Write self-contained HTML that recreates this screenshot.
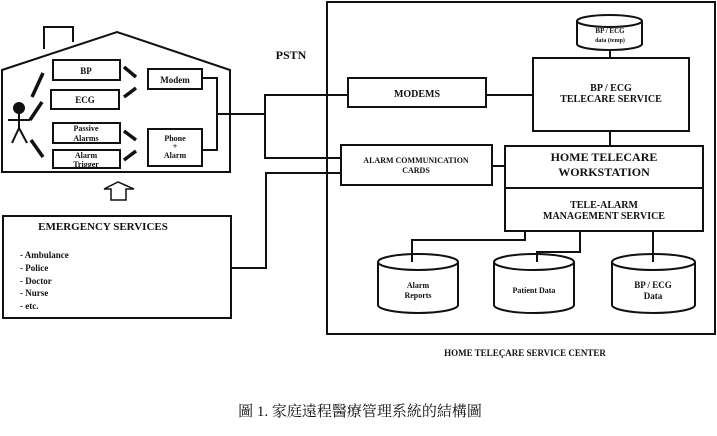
<!DOCTYPE html>
<html><head><meta charset="utf-8"><style>
html,body{margin:0;padding:0;background:#fff;width:717px;height:436px;overflow:hidden}
svg{display:block}
text{font-family:"Liberation Serif",serif;font-weight:bold;fill:#111}
</style></head><body>
<svg width="717" height="436" viewBox="0 0 717 436" xmlns="http://www.w3.org/2000/svg">
<g stroke="#111" stroke-width="2" fill="none">
<!-- house -->
<polyline points="44,49 44,27 73,27 73,42"/>
<polygon points="2,70 117,32 230,70 230,172 2,172" fill="#fff"/>
<polyline points="44,49 44,27 73,27 73,42"/>
<rect x="53" y="60" width="67" height="20"/>
<rect x="51" y="90" width="68" height="19"/>
<rect x="53" y="123" width="67" height="20"/>
<rect x="53" y="150" width="67" height="18"/>
<rect x="148" y="69" width="54" height="20"/>
<rect x="148" y="129" width="54" height="37"/>
<polyline points="202,78 217,78 217,150 202,150"/>
<!-- dashes -->
<g stroke-width="3.5">
<line x1="124" y1="67" x2="136" y2="77"/><line x1="124" y1="97" x2="136" y2="88"/>
<line x1="124" y1="131" x2="136" y2="140"/><line x1="124" y1="160" x2="136" y2="151"/>
<line x1="32" y1="97" x2="43" y2="73"/><line x1="30" y1="120" x2="42" y2="102"/>
<line x1="31" y1="140" x2="43" y2="157"/>
</g>
<!-- stick figure -->
<circle cx="19" cy="108" r="5" fill="#111"/>
<line x1="19" y1="113" x2="19" y2="128"/><line x1="8" y1="120" x2="30" y2="120"/>
<line x1="19" y1="128" x2="12" y2="143"/><line x1="19" y1="128" x2="27" y2="143"/>
<!-- arrow -->
<polygon points="111,200 111,189 104,189 118,182 134,189 126,189 126,200" stroke-width="1.5"/>
<!-- emergency -->
<rect x="3" y="216" width="228" height="102"/>
<!-- connections -->
<line x1="217" y1="114" x2="265" y2="114"/>
<polyline points="348,95 265,95 265,158 341,158"/>
<polyline points="231,268 266,268 266,173 341,173"/>
<!-- center -->
<rect x="327" y="2" width="388" height="332"/>
<rect x="348" y="78" width="138" height="29" fill="#fff"/>
<rect x="341" y="145" width="151" height="40" fill="#fff"/>
<line x1="486" y1="95" x2="533" y2="95"/>
<line x1="492" y1="166" x2="505" y2="166"/>
<rect x="533" y="58" width="156" height="73"/>
<line x1="610" y1="50" x2="610" y2="58"/><line x1="610" y1="131" x2="610" y2="146"/>
<rect x="505" y="146" width="198" height="85"/>
<line x1="505" y1="188" x2="703" y2="188"/>
<!-- temp cylinder -->
<path d="M577,21 L577,44 A32.5,6 0 0 0 642,44 L642,21"/>
<ellipse cx="609.5" cy="21" rx="32.5" ry="6"/>
<!-- db connectors -->
<polyline points="525,231 525,240 412,240 412,262"/>
<polyline points="580,231 580,252 537,252 537,262"/>
<line x1="653" y1="231" x2="653" y2="262"/>
<!-- cylinders -->
<path d="M378,262 L378,305 A40,8 0 0 0 458,305 L458,262"/><ellipse cx="418" cy="262" rx="40" ry="8"/>
<path d="M494,262 L494,305 A40,8 0 0 0 574,305 L574,262"/><ellipse cx="534" cy="262" rx="40" ry="8"/>
<path d="M612,262 L612,305 A41.5,8 0 0 0 695,305 L695,262"/><ellipse cx="653.5" cy="262" rx="41.5" ry="8"/>
</g>
<g text-anchor="middle" font-size="9">
<text x="86" y="74">BP</text>
<text x="85" y="103">ECG</text>
<text x="86" y="131" font-size="8">Passive</text><text x="86" y="141" font-size="8">Alarms</text>
<text x="86" y="158" font-size="8">Alarm</text><text x="86" y="167" font-size="8">Trigger</text>
<text x="175" y="83">Modem</text>
<text x="175" y="141" font-size="8">Phone</text><text x="175" y="149" font-size="8">+</text><text x="175" y="158" font-size="8">Alarm</text>
<text x="291" y="59" font-size="12">PSTN</text>
<text x="417" y="97" font-size="10">MODEMS</text>
<text x="416" y="163" font-size="8">ALARM COMMUNICATION</text><text x="416" y="173" font-size="8">CARDS</text>
<text x="610" y="33" font-size="7">BP / ECG</text><text x="610" y="42" font-size="6">data (temp)</text>
<text x="611" y="91" font-size="10">BP / ECG</text><text x="611" y="102" font-size="10">TELECARE SERVICE</text>
<text x="604" y="161" font-size="12">HOME TELECARE</text><text x="604" y="176" font-size="12">WORKSTATION</text>
<text x="604" y="208" font-size="10">TELE-ALARM</text><text x="604" y="219" font-size="10">MANAGEMENT SERVICE</text>
<text x="418" y="288" font-size="8">Alarm</text><text x="418" y="298" font-size="8">Reports</text>
<text x="534" y="293" font-size="8">Patient Data</text>
<text x="653" y="288" font-size="9">BP / ECG</text><text x="653" y="299" font-size="9">Data</text>
<text x="103" y="230" font-size="11">EMERGENCY SERVICES</text>
<text x="525" y="356" font-size="9">HOME TELEÇARE SERVICE CENTER</text>
</g>
<g font-size="9">
<text x="20" y="258">- Ambulance</text><text x="20" y="271">- Police</text><text x="20" y="284">- Doctor</text><text x="20" y="296">- Nurse</text><text x="20" y="309">- etc.</text>
</g>
<text x="360" y="416" text-anchor="middle" font-size="15" style="font-family:'Liberation Serif','Noto Serif CJK SC',serif;font-weight:normal">圖 1. 家庭遠程醫療管理系統的結構圖</text>
</svg>
</body></html>
